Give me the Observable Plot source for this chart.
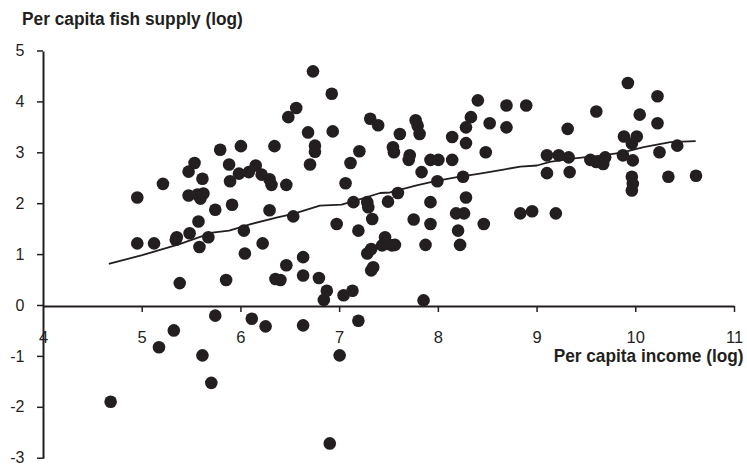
<!DOCTYPE html>
<html>
<head>
<meta charset="utf-8">
<script src="https://cdn.jsdelivr.net/npm/d3@7"></script>
<script src="https://cdn.jsdelivr.net/npm/@observablehq/plot@0.6"></script>
<style>
  html, body { margin: 0; padding: 0; background: #fff; }
  #chart svg { display: block; }
</style>
</head>
<body>
<div id="chart"></div>
<script>
// Per capita income (log) of each country
const income = [
  4.95, 5.21, 5.47, 5.53, 5.61, 5.47, 5.56, 5.59, 5.62, 5.74,
  5.57, 5.48, 5.79, 5.88, 5.89, 6.00, 5.98, 6.08, 6.15, 5.91,
  6.03, 6.21, 6.29, 6.31, 6.34, 6.46, 6.29, 6.53, 6.48, 6.56,
  6.68, 6.73, 6.75, 6.75, 6.70, 6.92, 6.93, 7.11, 7.20, 7.06,
  6.97, 7.14, 7.28, 7.29, 7.33, 7.19, 7.31, 7.39, 8.40, 8.69,
  8.89, 8.33, 8.28, 8.52, 8.69, 7.77, 7.79, 7.81, 7.61, 8.14,
  8.28, 8.48, 7.54, 7.55, 7.71, 7.70, 7.92, 8.00, 8.14, 7.83,
  7.99, 8.25, 7.59, 7.49, 7.92, 8.28, 7.75, 7.92, 8.18, 8.26,
  8.46, 8.20, 8.83, 8.95, 9.19, 9.31, 9.60, 9.92, 10.22, 10.04,
  10.22, 9.88, 10.01, 9.96, 9.10, 9.22, 9.32, 9.10, 9.33, 9.54,
  9.60, 9.67, 9.69, 9.87, 9.97, 10.24, 10.42, 9.96, 9.97, 9.96,
  10.33, 10.61, 8.22, 7.87, 7.56, 7.85, 6.22, 6.04, 6.46, 6.63,
  6.40, 6.35, 6.63, 6.79, 6.87, 6.84, 7.04, 7.13, 7.28, 7.32,
  7.46, 7.43, 7.53, 7.48, 7.34, 7.32, 4.95, 5.12, 5.34, 5.35,
  5.67, 5.58, 5.38, 5.85, 5.74, 5.32, 5.17, 5.61, 5.70, 4.68,
  6.11, 6.25, 6.63, 7.19, 7.00, 6.90
];
// Per capita fish supply (log) of each country
const fishSupply = [
  2.14, 2.41, 2.65, 2.82, 2.51, 2.18, 2.20, 2.12, 2.22, 1.90,
  1.67, 1.44, 3.08, 2.79, 2.46, 3.15, 2.61, 2.64, 2.77, 2.00,
  1.49, 2.59, 2.50, 2.39, 3.15, 2.39, 1.89, 1.77, 3.72, 3.90,
  3.42, 4.62, 3.16, 3.04, 2.79, 4.18, 3.44, 2.82, 3.05, 2.42,
  1.62, 2.05, 2.05, 1.95, 1.72, 1.49, 3.69, 3.56, 4.05, 3.95,
  3.95, 3.72, 3.52, 3.60, 3.52, 3.66, 3.55, 3.39, 3.39, 3.33,
  3.21, 3.03, 3.13, 3.03, 2.97, 2.88, 2.88, 2.88, 2.88, 2.64,
  2.46, 2.55, 2.23, 2.06, 2.05, 2.14, 1.71, 1.62, 1.83, 1.83,
  1.62, 1.49, 1.83, 1.87, 1.83, 3.49, 3.83, 4.39, 4.13, 3.77,
  3.60, 3.34, 3.34, 3.20, 2.97, 2.97, 2.93, 2.62, 2.64, 2.88,
  2.84, 2.80, 2.93, 2.97, 2.87, 3.03, 3.16, 2.55, 2.41, 2.28,
  2.55, 2.57, 1.21, 1.21, 1.21, 0.12, 1.24, 1.04, 0.81, 0.97,
  0.52, 0.54, 0.61, 0.56, 0.31, 0.13, 0.22, 0.31, 1.04, 1.13,
  1.36, 1.20, 1.20, 1.23, 0.77, 0.71, 1.24, 1.24, 1.31, 1.36,
  1.36, 1.17, 0.46, 0.52, -0.18, -0.47, -0.80, -0.96, -1.50, -1.87,
  -0.24, -0.39, -0.37, -0.28, -0.96, -2.69
];
// Fitted (smoothed) relationship
const fitIncome = [4.67, 5.00, 5.37, 5.71, 5.88, 6.00, 6.10, 6.37, 6.53, 6.80, 7.02, 7.21, 7.41, 7.51, 7.78, 7.98, 8.19, 8.42, 8.66, 8.83, 9.00, 9.13, 9.33, 9.67, 9.87, 10.08, 10.35, 10.60];
const fitSupply = [0.84, 1.01, 1.22, 1.45, 1.49, 1.56, 1.62, 1.75, 1.82, 1.98, 2.00, 2.11, 2.23, 2.24, 2.38, 2.47, 2.54, 2.61, 2.69, 2.75, 2.77, 2.84, 2.90, 2.97, 3.03, 3.13, 3.23, 3.25];
// Tick labels
const xTicks = [4, 5, 6, 7, 8, 9, 10, 11];
const yTicks = [-3, -2, -1, 0, 1, 2, 3, 4, 5];
const yTitle = "Per capita fish supply (log)";
const xTitle = "Per capita income (log)";

const points = income.map((x, i) => ({x, y: fishSupply[i]}));
const fit = fitIncome.map((x, i) => ({x, y: fitSupply[i]}));

const ink = "#231f20";
const FONT = "'Liberation Sans', Arial, sans-serif";

const chart = Plot.plot({
  width: 747,
  height: 466,
  marginLeft: 43,
  marginRight: 13,
  marginTop: 51.5,
  marginBottom: 7.3,
  style: {fontFamily: FONT, color: ink, background: "#fff"},
  x: {domain: [4, 11], axis: null},
  y: {domain: [-3, 5]},
  marks: [
    Plot.axisY({ticks: yTicks, tickSize: 6, tickPadding: 13, tickFormat: d => String(d), fontSize: 16, dy: -1, label: null, stroke: ink, fill: ink, strokeWidth: 1.5}),
    Plot.ruleX([4], {stroke: ink, strokeWidth: 2}),
    Plot.ruleY([0], {stroke: ink, strokeWidth: 2}),
    Plot.ruleX(xTicks.slice(1), {x: d => d, y1: 0, y2: 0, insetBottom: -6, stroke: ink, strokeWidth: 1.5}),
    Plot.text(xTicks, {x: d => d, y: 0, dy: 31, text: d => String(d), fontSize: 16.5, fill: ink}),
    Plot.dot(points, {x: "x", y: "y", r: 6.3, fill: ink, stroke: null}),
    Plot.line(fit, {x: "x", y: "y", stroke: ink, strokeWidth: 1.8}),
    Plot.text([yTitle], {frameAnchor: "top-left", lineAnchor: "middle", dx: -21.5, dy: -33.5, text: d => d, textAnchor: "start", fontSize: 19, fontWeight: "bold", fill: ink}),
    Plot.text([xTitle], {frameAnchor: "top-right", lineAnchor: "middle", dx: 9, dy: 303.5, text: d => d, textAnchor: "end", fontSize: 19, fontWeight: "bold", fill: ink})
  ]
});
document.getElementById("chart").appendChild(chart);

// Narrow the two titles horizontally (the original uses a condensed face),
// keeping their left / right edge where it is.
function condense(text, target, side) {
  const node = d3.select(chart).selectAll("text")
    .filter(function() { return this.textContent === text; }).node();
  if (!node) return;
  const orig = node.getAttribute("transform") || "";
  const before = node.getBoundingClientRect();
  const s = target / before.width;
  node.setAttribute("transform", `${orig} scale(${s},1)`);
  const after = node.getBoundingClientRect();
  const shift = side === "right" ? before.right - after.right : before.left - after.left;
  node.setAttribute("transform", `${orig} translate(${shift},0) scale(${s},1)`);
}
condense(yTitle, 221, "left");
condense(xTitle, 190, "right");
</script>
</body>
</html>
